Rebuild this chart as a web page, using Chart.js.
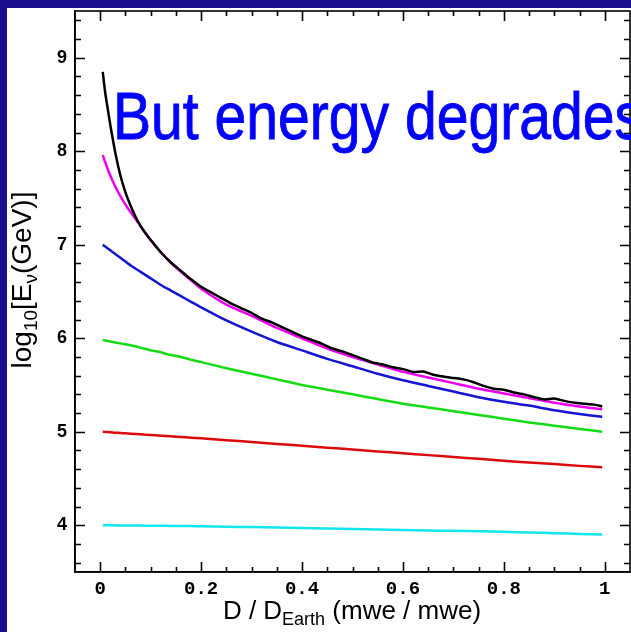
<!DOCTYPE html>
<html><head><meta charset="utf-8">
<script src="https://cdn.jsdelivr.net/npm/chart.js@4.4.1/dist/chart.umd.min.js"></script>
<style>
html,body{margin:0;padding:0;background:#1b0e8c;width:631px;height:632px;overflow:hidden;}
#wrap{position:absolute;left:7px;top:8px;width:624px;height:624px;background:#fff;}
canvas{display:block;}
</style></head><body>
<div id="wrap"><canvas id="c" width="624" height="624"></canvas></div>
<script>
const slideTitle = "But energy degrades";
const xTickValues = [0, 0.2, 0.4, 0.6, 0.8, 1];
const yTickValues = [4, 5, 6, 7, 8, 9];

const xBlack = [0.005,0.01,0.015,0.02,0.03,0.04,0.05,0.06,0.07,0.08,0.09,0.10,0.12,0.14,0.16,0.18,0.20,0.22,0.24,0.26,0.28,0.30,0.32,0.34,0.36,0.38,0.40,0.42,0.44,0.46,0.48,0.50,0.52,0.54,0.56,0.58,0.60,0.62,0.64,0.66,0.68,0.70,0.72,0.74,0.76,0.78,0.80,0.82,0.84,0.86,0.88,0.90,0.92,0.94,0.96,0.98,0.995];
const yBlack = [8.85,8.62,8.45,8.28,7.98,7.74,7.56,7.42,7.30,7.20,7.12,7.05,6.92,6.81,6.72,6.63,6.55,6.49,6.43,6.37,6.32,6.27,6.21,6.17,6.12,6.07,6.02,5.98,5.94,5.89,5.86,5.82,5.78,5.74,5.72,5.69,5.67,5.64,5.645,5.61,5.59,5.575,5.56,5.53,5.49,5.46,5.45,5.42,5.40,5.37,5.345,5.355,5.33,5.31,5.30,5.29,5.27];

const xSmooth = [0.005,0.01,0.02,0.03,0.04,0.05,0.06,0.08,0.10,0.12,0.14,0.16,0.18,0.20,0.25,0.30,0.35,0.40,0.45,0.50,0.55,0.60,0.65,0.70,0.75,0.80,0.85,0.90,0.95,0.995];
const yMagenta = [7.96,7.88,7.74,7.62,7.52,7.43,7.35,7.20,7.05,6.92,6.81,6.71,6.62,6.53,6.36,6.24,6.11,6.00,5.89,5.80,5.72,5.64,5.58,5.52,5.46,5.41,5.36,5.31,5.27,5.24];
const yBlue    = [7.00,6.98,6.94,6.90,6.86,6.82,6.78,6.71,6.64,6.57,6.51,6.45,6.39,6.33,6.19,6.07,5.96,5.87,5.78,5.70,5.62,5.55,5.49,5.43,5.37,5.32,5.28,5.23,5.19,5.16];
const yGreen   = [5.98,5.975,5.965,5.955,5.945,5.935,5.925,5.90,5.87,5.85,5.82,5.80,5.77,5.745,5.68,5.62,5.56,5.50,5.45,5.40,5.35,5.30,5.26,5.22,5.18,5.14,5.10,5.065,5.03,5.00];
const yRed     = [5.00,4.998,4.995,4.99,4.987,4.983,4.979,4.972,4.965,4.958,4.951,4.944,4.937,4.93,4.91,4.89,4.87,4.85,4.83,4.81,4.79,4.77,4.75,4.73,4.71,4.69,4.67,4.655,4.635,4.62];
const yCyan    = [4.00,4.00,4.00,3.998,3.998,3.997,3.997,3.996,3.995,3.994,3.993,3.992,3.991,3.99,3.985,3.98,3.975,3.97,3.965,3.96,3.955,3.95,3.945,3.94,3.935,3.93,3.922,3.915,3.907,3.90];

function pts(xs, ys){ return xs.map((x,i)=>({x:x, y:ys[i]})); }
function ds(label, xs, ys, color){
  return {label, data: pts(xs, ys), borderColor: color, backgroundColor: color,
    borderWidth: 2.5, pointRadius: 0, showLine: true, tension: 0.2, fill: false};
}

function drawRich(ctx, parts, cx, baseY, mainFont, subFont, subShift){
  let w = 0;
  parts.forEach(p=>{ ctx.font = p.sub ? subFont : mainFont; w += ctx.measureText(p.t).width; });
  let x = cx - w/2;
  parts.forEach(p=>{
    ctx.font = p.sub ? subFont : mainFont;
    ctx.fillText(p.t, x, baseY + (p.sub ? subShift : 0));
    x += ctx.measureText(p.t).width;
  });
}

const decor = {
  id: 'decor',
  afterDatasetsDraw(chart){
    const {ctx, chartArea: a, scales: {x, y}} = chart;
    ctx.save();
    ctx.strokeStyle = '#000';
    ctx.lineWidth = 1.6;
    ctx.strokeRect(a.left, a.top, a.right - a.left, a.bottom - a.top);
    ctx.beginPath();
    for (let i = -1; i <= 21; i++){
      const v = i * 0.05;
      const px = Math.round(x.getPixelForValue(v)) + 0.5;
      if (px < a.left + 1 || px > a.right - 1) continue;
      const L = (i % 4 === 0) ? 10 : 5;
      ctx.moveTo(px, a.bottom); ctx.lineTo(px, a.bottom - L);
      ctx.moveTo(px, a.top); ctx.lineTo(px, a.top + L);
    }
    for (let i = 18; i <= 47; i++){
      const v = i * 0.2;
      const py = Math.round(y.getPixelForValue(v)) + 0.5;
      if (py < a.top + 1 || py > a.bottom - 1) continue;
      const L = (i % 5 === 0) ? 10 : 6;
      ctx.moveTo(a.left, py); ctx.lineTo(a.left + L, py);
      ctx.moveTo(a.right, py); ctx.lineTo(a.right - L, py);
    }
    ctx.stroke();
    ctx.restore();
  },
  afterDraw(chart){
    const {ctx} = chart;
    ctx.save();
    ctx.fillStyle = '#000';
    ctx.textAlign = 'left';
    ctx.textBaseline = 'alphabetic';
    // x title
    drawRich(ctx, [{t:'D / D'},{t:'Earth',sub:true},{t:' (mwe / mwe)'}],
      345, 611, '26px "Liberation Sans"', '18px "Liberation Sans"', 6);
    // y title
    ctx.translate(24, 272);
    ctx.rotate(-Math.PI/2);
    drawRich(ctx, [{t:'log'},{t:'10',sub:true},{t:'[E'},{t:'ν',sub:true},{t:'(GeV)]'}],
      0, 0, '28px "Liberation Sans"', '19px "Liberation Sans"', 6);
    ctx.restore();
    // slide title
    ctx.save();
    ctx.fillStyle = '#0000ff';
    ctx.strokeStyle = '#0000ff';
    ctx.lineWidth = 0.9;
    ctx.font = '66px "Liberation Sans"';
    ctx.textBaseline = 'alphabetic';
    const w = ctx.measureText(slideTitle).width;
    const target = 530;
    ctx.translate(106, 131);
    ctx.scale(target / w, 1);
    ctx.fillText(slideTitle, 0, 0);
    ctx.strokeText(slideTitle, 0, 0);
    ctx.restore();
  }
};

new Chart(document.getElementById('c'), {
  type: 'scatter',
  data: { datasets: [
    ds('black', xBlack, yBlack, '#000000'),
    ds('magenta', xSmooth, yMagenta, '#ee00ee'),
    ds('blue', xSmooth, yBlue, '#1414d2'),
    ds('green', xSmooth, yGreen, '#14dc14'),
    ds('red', xSmooth, yRed, '#dc0a0a'),
    ds('cyan', xSmooth, yCyan, '#14e6eb')
  ]},
  options: {
    responsive: false,
    animation: false,
    devicePixelRatio: 1,
    layout: { padding: { top: 3, right: 1, left: 0, bottom: 0 } },
    plugins: { legend: { display: false }, tooltip: { enabled: false }, title: { display: false } },
    scales: {
      x: {
        type: 'linear', position: 'bottom', min: -0.05, max: 1.05,
        afterBuildTicks: s => { s.ticks = xTickValues.map(v => ({value: v})); },
        afterFit: s => { s.height = 60; s.paddingLeft = 0; s.paddingRight = 0; },
        ticks: {
          autoSkip: false, maxRotation: 0, padding: 6, color: '#000',
          font: { family: '"Liberation Mono"', weight: 'bold', size: 19 },
          callback: v => (v === 0 ? '0' : v === 1 ? '1' : v.toFixed(1))
        },
        grid: { drawOnChartArea: false, drawTicks: false },
        border: { display: true, color: '#000', width: 1.6 }
      },
      y: {
        type: 'linear', position: 'left', min: 3.5, max: 9.5,
        afterBuildTicks: s => { s.ticks = yTickValues.map(v => ({value: v})); },
        afterFit: s => { s.width = 68; s.paddingTop = 0; s.paddingBottom = 0; },
        ticks: {
          autoSkip: false, padding: 8, color: '#000',
          font: { family: '"Liberation Sans"', weight: 'bold', size: 18 },
          callback: v => String(v)
        },
        grid: { drawOnChartArea: false, drawTicks: false },
        border: { display: true, color: '#000', width: 1.6 }
      }
    }
  },
  plugins: [decor]
});
</script>
</body></html>
